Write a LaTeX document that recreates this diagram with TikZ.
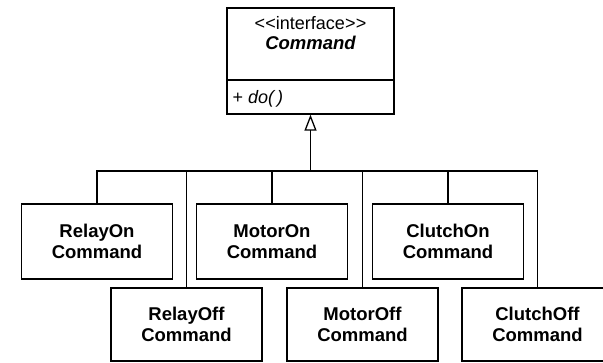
\documentclass[tikz,border=0pt]{standalone}
\usepackage{fontspec}
\setmainfont{Liberation Sans}
\usetikzlibrary{arrows.meta}
\begin{document}
\begin{tikzpicture}[x=1pt,y=-1pt,
  line width=1.3pt,
  classbox/.style={draw, minimum width=151pt, minimum height=75pt,
    align=center, inner sep=0pt,
    font=\fontsize{18.5}{21}\selectfont\bfseries},
  lowbox/.style={classbox, minimum height=73pt},
  label/.style={inner sep=0pt, font=\fontsize{18}{20}\selectfont},
  realizes/.style={-{Triangle[open, length=16pt, width=12pt, line width=1.3pt]}}]
\clip (0,0) rectangle (603,363);

% interface Command
\node[draw, minimum width=167pt, minimum height=106pt, inner sep=0pt] (cmd) at (310.5,61) {};
\node[label] (stereo) at (cmd.north |- 0,23) {<\kern0.3pt<interface>\kern0.3pt>};
\node[label, font=\fontsize{18.5}{20}\selectfont\bfseries\itshape] (cname) at (cmd.north |- 0,43) {Command};
\coordinate (divl) at (cmd.west |- 0,80);
\coordinate (divr) at (cmd.east |- 0,80);
\draw (divl) -- (divr);
\node[label, anchor=west] (op) at (232,99) {+ \textit{do(\,)}};

% implementing classes, upper row
\node[classbox] (relayon)  at (97,241.5)  {RelayOn\\Command};
\node[classbox] (motoron)  at (272,241.5) {MotorOn\\Command};
\node[classbox] (clutchon) at (448,241.5) {ClutchOn\\Command};
% lower row
\node[lowbox] (relayoff)  at (186.5,324.5) {RelayOff\\Command};
\node[lowbox] (motoroff)  at (362.5,324.5) {MotorOff\\Command};
\node[lowbox] (clutchoff) at (537.5,324.5) {ClutchOff\\Command};

% inheritance tree
\coordinate (bus) at (cmd.south |- 0,171);
\draw[realizes] (bus) -- (cmd.south);
\draw (relayon.north) |- (bus) -| (clutchoff.north);
\draw (relayoff.north) -- (relayoff.north |- bus);
\draw (motoron.north)  -- (motoron.north |- bus);
\draw (motoroff.north) -- (motoroff.north |- bus);
\draw (clutchon.north) -- (clutchon.north |- bus);
\end{tikzpicture}
\end{document}
